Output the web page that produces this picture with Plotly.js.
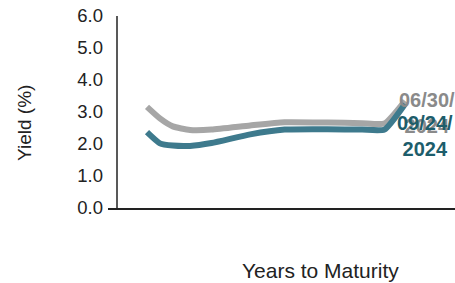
<!DOCTYPE html>
<html>
<head>
<meta charset="utf-8">
<script src="https://cdn.plot.ly/plotly-3.0.1.min.js"></script>
<style>html,body{margin:0;padding:0;background:#fff;}#chart{width:455px;height:283px;}</style>
</head>
<body>
<div id="chart"></div>
<script>
// Years to maturity (approximate positions along the curve)
var maturity = [0, 1.5, 3, 5, 7.5, 12, 16, 21, 25, 27.6, 30];
// Yield (%) as of 06/30/2024
var yieldJun = [3.16, 2.8, 2.55, 2.44, 2.45, 2.58, 2.68, 2.67, 2.65, 2.64, 3.35];
// Yield (%) as of 09/24/2024
var yieldSep = [2.37, 2.02, 1.95, 1.94, 2.03, 2.3, 2.45, 2.46, 2.45, 2.45, 3.25];
var yTicks = [0, 1, 2, 3, 4, 5, 6];
var labelJun = "06/30/<br>2024";
var labelSep = "09/24/<br>2024";

var grayLine = "#a6a6a6", tealLine = "#3e7a8d";
var grayText = "#8a8a8a", tealText = "#1d5d6b";
var font = "Liberation Sans, Arial, sans-serif";

var traces = [
  {x: maturity, y: yieldJun, mode: "lines", line: {color: grayLine, width: 6, shape: "spline", smoothing: 0.5}, hoverinfo: "skip"},
  {x: maturity, y: yieldSep, mode: "lines", line: {color: tealLine, width: 6, shape: "spline", smoothing: 0.5}, hoverinfo: "skip"}
];
var n = maturity.length - 1;
var layout = {
  width: 455, height: 283,
  margin: {l: 108, r: 0, t: 16, b: 75},
  paper_bgcolor: "#fff", plot_bgcolor: "#fff",
  showlegend: false,
  font: {family: font, color: "#222"},
  xaxis: {range: [-4.535, 35.81], showgrid: false, zeroline: false, showticklabels: false, ticks: "",
          showline: true, linecolor: "#222", linewidth: 1.5},
  yaxis: {range: [0, 6], tickvals: yTicks, tickformat: ".1f", showgrid: false, zeroline: false,
          showline: false, ticks: "", tickfont: {size: 18.5, color: "#222"}, ticklabelstandoff: 4},
  shapes: [
    {type: "line", xref: "paper", yref: "y", x0: 9/347, x1: 9/347, y0: 0, y1: 6, line: {color: "#222", width: 1.5}}
  ],
  annotations: [
    {xref: "x", yref: "y", x: maturity[n], y: yieldJun[n], xshift: 22, yshift: -12, text: labelJun, showarrow: false,
     font: {family: font, size: 20, color: grayText, weight: "bold"}, xanchor: "center", yanchor: "middle"},
    {xref: "x", yref: "y", x: maturity[n], y: yieldSep[n], xshift: 20, yshift: -32, text: labelSep, showarrow: false,
     font: {family: font, size: 20, color: tealText, weight: "bold"}, xanchor: "center", yanchor: "middle"},
    {xref: "paper", yref: "paper", x: -0.239, y: 0.443, text: "Yield (%)", textangle: -90, showarrow: false,
     font: {family: font, size: 19, color: "#222"}, xanchor: "center", yanchor: "middle"},
    {xref: "paper", yref: "paper", x: 0.611, y: -0.323, text: "Years to Maturity", showarrow: false,
     font: {family: font, size: 21, color: "#222"}, xanchor: "center", yanchor: "middle"}
  ]
};
Plotly.newPlot("chart", traces, layout, {displayModeBar: false, staticPlot: true});
</script>
</body>
</html>
